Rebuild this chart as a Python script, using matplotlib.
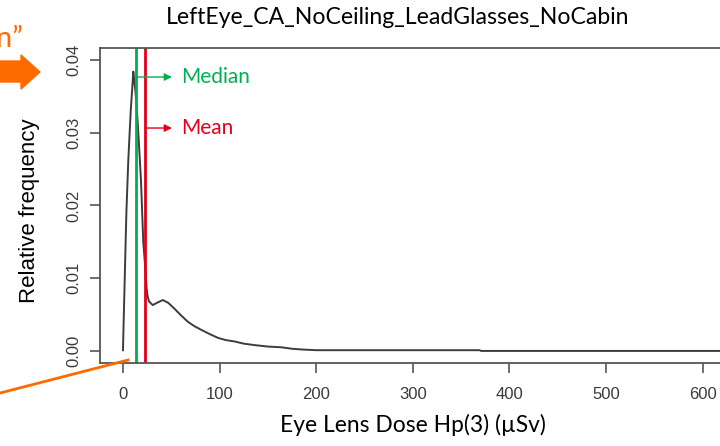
import matplotlib
matplotlib.use("Agg")
import matplotlib.pyplot as plt
from matplotlib.patches import Polygon
import numpy as np

# density curve (dose in uSv, relative frequency)
dose = [0.0, 0.5, 2.0, 3.5, 5.5, 8.0, 10.7, 11.6, 13.0, 15.2, 18.6, 21.0,
        23.0, 24.5, 25.5, 27.0, 30.8, 35.0, 41.2, 47.0, 53.3, 60.0, 67.2,
        74.0, 81.0, 90.0, 98.3, 106.0, 115.6, 125.0, 136.4, 150.0, 164.0,
        175.0, 185.0, 200.0, 369.0, 371.0, 720.0]
freq = [0.0001, 0.003, 0.011, 0.019, 0.0262, 0.033, 0.0384, 0.0372, 0.0355,
        0.0315, 0.0235, 0.015, 0.0115, 0.0085, 0.0075, 0.0068, 0.0063, 0.0066,
        0.0070, 0.0066, 0.0058, 0.0049, 0.0040, 0.0034, 0.0029, 0.0023,
        0.0018, 0.0015, 0.0013, 0.0010, 0.0008, 0.0006, 0.0005, 0.0003,
        0.0002, 0.0001, 0.0001, 0.0, 0.0]
median_dose = 13.1
mean_dose = 22.8
xticks = [0, 100, 200, 300, 400, 500, 600]
yticks = [0.00, 0.01, 0.02, 0.03, 0.04]
ytick_labels = ["0.00", "0.01", "0.02", "0.03", "0.04"]

title = "LeftEye_CA_NoCeiling_LeadGlasses_NoCabin"
xlabel = "Eye Lens Dose Hp(3) (\u00b5Sv)"
ylabel = "Relative frequency"

W, H = 720, 446
green = "#00B050"
red = "#E3001B"
orange = "#FF6A00"
slide_font = ["Lato", "DejaVu Sans"]
r_font = ["Liberation Sans", "DejaVu Sans"]


def px(x, y):
    # pixel position (top-left origin) -> figure fraction
    return x / W, 1 - y / H


fig = plt.figure(figsize=(7.2, 4.46), dpi=100)
ax = fig.add_axes([100 / W, 1 - 363.3 / H, 700 / W, (363.3 - 48) / H])

ax.plot(dose, freq, color="#3c3c3c", lw=1.4)
ax.axvline(median_dose, color=green, lw=2)
ax.axvline(mean_dose, color=red, lw=2)

ax.set_xlim(-23.8, 700.8)
ax.set_ylim(-0.0017, 0.04164)

ax.set_xticks(xticks)
ax.set_yticks(yticks)
ax.set_yticklabels(ytick_labels, rotation=90, va="center")
ax.tick_params(axis="both", length=7.2, width=1.2, color="#555555",
               labelcolor="#3a3a3a", labelsize=12)
ax.tick_params(axis="x", pad=10)
ax.tick_params(axis="y", pad=6)
for lab in ax.get_xticklabels() + ax.get_yticklabels():
    lab.set_family(r_font)
for sp in ax.spines.values():
    sp.set_color("#555555")
    sp.set_linewidth(1.3)

# median / mean call-outs
ax.annotate("", xy=(50.7, 0.03765), xytext=(median_dose, 0.03765),
            arrowprops=dict(arrowstyle="-|>", color=green, lw=1,
                            mutation_scale=11, shrinkA=0, shrinkB=0))
ax.annotate("", xy=(50.7, 0.03064), xytext=(mean_dose, 0.03064),
            arrowprops=dict(arrowstyle="-|>", color=red, lw=1,
                            mutation_scale=11, shrinkA=0, shrinkB=0))
ax.text(60, 0.03765, "Median", color=green, fontsize=15, family=slide_font,
        va="center", ha="left")
ax.text(60, 0.03064, "Mean", color=red, fontsize=15, family=slide_font,
        va="center", ha="left")

# titles
fig.text(*px(398, 18), title, fontsize=16.6, family=slide_font,
         ha="center", va="center")
fig.text(*px(413, 425), xlabel, fontsize=16.4, family=slide_font,
         ha="center", va="center")
fig.text(*px(30, 211), ylabel, fontsize=16, family=r_font,
         rotation=90, ha="center", va="center")

# orange slide decorations at the left edge (cropped like the reference)
fig.text(*px(23, 47), "n\u201d", color=orange, fontsize=21,
         family=slide_font, ha="right", va="baseline")
arrow_pts = [px(-5, 61), px(21, 61), px(21, 55), px(40, 72), px(21, 89),
             px(21, 82), px(-5, 82)]
fig.patches.append(Polygon(arrow_pts, closed=True, color=orange,
                           transform=fig.transFigure, joinstyle="round"))
fig.lines.append(plt.Line2D(*zip(px(0, 393), px(128, 360)), color=orange,
                            lw=2, transform=fig.transFigure))

fig.savefig("out.png", dpi=100)
